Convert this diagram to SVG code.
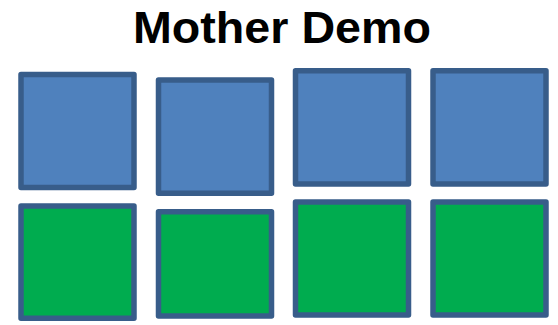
<svg xmlns="http://www.w3.org/2000/svg" width="558" height="325" viewBox="0 0 558 325">
<style>
.t{font-family:"Liberation Sans",Arial,sans-serif;font-weight:bold;font-size:45px;fill:#000}
.b{fill:#4f81bd;stroke:#385d8a;stroke-width:5.5;stroke-linejoin:round}
.g{fill:#00ac4f;stroke:#385d8a;stroke-width:5.5;stroke-linejoin:round}
</style>
<rect width="558" height="325" fill="#fff"/>
<text class="t" x="282" y="43" text-anchor="middle" textLength="298" lengthAdjust="spacingAndGlyphs">Mother Demo</text>
<g id="blue1"><rect class="b" x="21" y="74.5" width="113" height="113"/></g>
<g id="blue2"><rect class="b" x="158.5" y="80" width="113" height="113.3"/></g>
<g id="blue3"><rect class="b" x="295.5" y="70.8" width="113" height="113.2"/></g>
<g id="blue4"><rect class="b" x="433" y="70.8" width="113" height="113.2"/></g>
<g id="green1"><rect class="g" x="21" y="206" width="113" height="112.3"/></g>
<g id="green2"><rect class="g" x="158.5" y="211.8" width="113" height="104.2"/></g>
<g id="green3"><rect class="g" x="295.5" y="202" width="113" height="113"/></g>
<g id="green4"><rect class="g" x="433" y="202" width="113" height="113"/></g>
<g id="connectors"></g>
</svg>
